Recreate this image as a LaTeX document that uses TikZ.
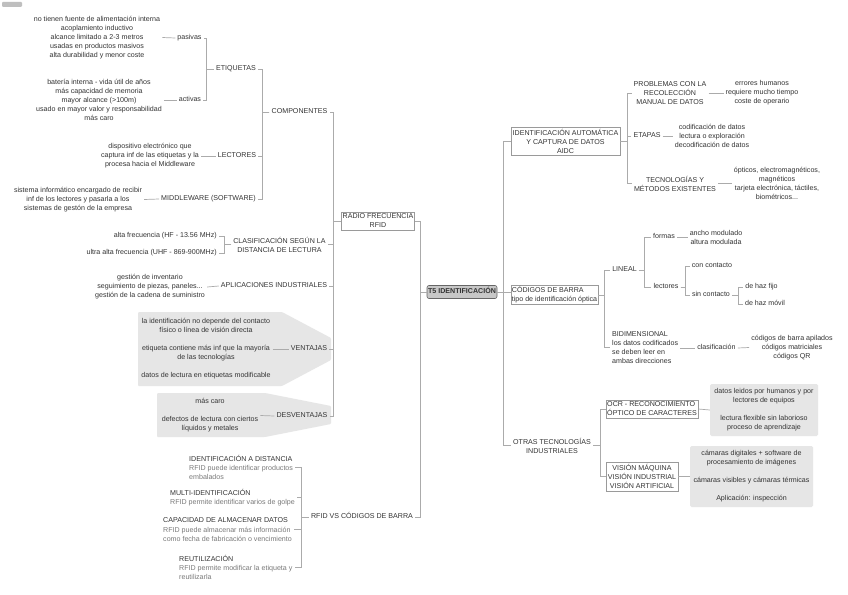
\documentclass[tikz,border=0pt]{standalone}
\usepackage{fontspec}
\setmainfont{Liberation Sans}
\usetikzlibrary{calc}
\definecolor{txtc}{HTML}{333333}
\definecolor{lnc}{HTML}{ABABAB}
\definecolor{bxc}{HTML}{9A9A9A}
\definecolor{shpc}{HTML}{E6E6E6}
\definecolor{descc}{HTML}{7A7A7A}
\newcommand\mydesc[1]{\textcolor{descc}{#1}}
\begin{document}
\begin{tikzpicture}[x=1pt,y=-1pt,
  every node/.style={font=\fontsize{7.1}{9}\selectfont, text=txtc, inner sep=2pt, align=center},
  one/.style={text height=5.3pt, text depth=1.5pt},
  bxn/.style={draw=bxc, line width=0.6pt, inner xsep=1pt, inner ysep=1pt},
  gbox/.style={fill=shpc, rounded corners=1.5pt, inner sep=1pt},
  conn/.style={draw=lnc, line width=0.7pt},
]
\useasboundingbox (0,0) rectangle (848,594);
\fill[white] (0,0) rectangle (848,594);
% badge
\fill[black!25, rounded corners=1pt] (2,2) rectangle (22,7);

% gray shapes
\fill[shpc, rounded corners=1pt] (138,312) -- (282,312) -- (331,338) -- (331,360) -- (282,386) -- (138,386) -- cycle;
\fill[shpc, rounded corners=1pt] (157,393) -- (265,393) -- (331,406) -- (331,424) -- (265,437) -- (157,437) -- cycle;

% ---------- centre
\node[one, draw=black!60, fill=black!22, rounded corners=2pt, line width=0.6pt, font=\fontsize{7.1}{9}\selectfont\bfseries, minimum width=70pt, minimum height=13pt, inner sep=1pt] (t5) at (462,292) {T5 IDENTIFICACIÓN};

% ---------- left
\node[bxn, minimum width=72pt, minimum height=18pt] (rf) at (378,221) {RADIO FRECUENCIA\\RFID};

\node (pasT) at (97,37.5) {no tienen fuente de alimentación interna\\acoplamiento inductivo\\alcance limitado a 2-3 metros\\usadas en productos masivos\\alta durabilidad y menor coste};
\node[one] (pas) at (189.5,38) {pasivas};
\node (actT) at (99,100) {batería interna - vida útil de años\\más capacidad de memoria\\mayor alcance (>100m)\\usado en mayor valor y responsabilidad\\más caro};
\node[one] (act) at (190,100) {activas};
\node[one] (etiq) at (236,69) {ETIQUETAS};
\node (lecT) at (150,156) {dispositivo electrónico que\\captura inf de las etiquetas y la\\procesa hacia el Middleware};
\node[one] (lec) at (237,156) {LECTORES};
\node (midT) at (78,199.5) {sistema informático encargado de recibir\\inf de los lectores y pasarla a los\\sistemas de gestón de la empresa};
\node[one] (mid) at (208.5,199) {MIDDLEWARE (SOFTWARE)};
\node[one] (comp) at (299.5,112) {COMPONENTES};

\node[one, anchor=east] (hf) at (219,236) {alta frecuencia (HF - 13.56 MHz)};
\node[one, anchor=east] (uhf) at (219,253) {ultra alta frecuencia (UHF - 869-900MHz)};
\node (clas) at (279.5,244.5) {CLASIFICACIÓN SEGÚN LA\\DISTANCIA DE LECTURA};

\node (aplT) at (150,287) {gestión de inventario\\seguimiento de piezas, paneles...\\gestión de la cadena de suministro};
\node[one] (apl) at (274,286) {APLICACIONES INDUSTRIALES};

\node (venT) at (206,349) {la identificación no depende del contacto\\físico o línea de visión directa\\[9pt]etiqueta contiene más inf que la mayoría\\de las tecnologías\\[9pt]datos de lectura en etiquetas modificable};
\node[one] (ven) at (309,349) {VENTAJAS};
\node (desT) at (210,415.5) {más caro\\[9pt]defectos de lectura con ciertos\\líquidos y metales};
\node[one] (des) at (302,416) {DESVENTAJAS};

\node[one] (rvs) at (362,517) {RFID VS CÓDIGOS DE BARRA};
\node[anchor=west, align=left] (it1) at (187,467) {IDENTIFICACIÓN A DISTANCIA\\\mydesc{RFID puede identificar productos}\\\mydesc{embalados}};
\node[anchor=west, align=left] (it2) at (168,497.5) {MULTI-IDENTIFICACIÓN\\\mydesc{RFID permite identificar varios de golpe}};
\node[anchor=west, align=left] (it3) at (161,529.5) {CAPACIDAD DE ALMACENAR DATOS\\[1pt]\mydesc{RFID puede almacenar más información}\\\mydesc{como fecha de fabricación o vencimiento}};
\node[anchor=west, align=left] (it4) at (177,567) {REUTILIZACIÓN\\\mydesc{RFID permite modificar la etiqueta y}\\\mydesc{reutilizarla}};

% ---------- right
\node[bxn, minimum width=109pt, minimum height=28pt] (aidc) at (565.5,141) {IDENTIFICACIÓN AUTOMÁTICA\\Y CAPTURA DE DATOS\\AIDC};
\node (prob) at (670,93) {PROBLEMAS CON LA\\RECOLECCIÓN\\MANUAL DE DATOS};
\node (probT) at (762,93) {errores humanos\\requiere mucho tiempo\\coste de operario};
\node[one] (etap) at (647,136) {ETAPAS};
\node (etapT) at (712,136) {codificación de datos\\lectura o exploración\\decodificación de datos};
\node (tec) at (675,183.5) {TECNOLOGÍAS Y\\MÉTODOS EXISTENTES};
\node (tecT) at (777,183.5) {ópticos, electromagnéticos,\\magnéticos\\tarjeta electrónica, táctiles,\\biométricos...};

\node[bxn, align=left, minimum width=87pt, minimum height=18pt] (cb) at (554.5,295) {CÓDIGOS DE BARRA\\tipo de identificación óptica};
\node[one] (lin) at (624.5,270) {LINEAL};
\node[one] (form) at (664,237) {formas};
\node (formT) at (716,237) {ancho modulado\\altura modulada};
\node[one] (lect) at (666,287) {lectores};
\node[one] (con) at (712,266) {con contacto};
\node[one] (sin) at (711,295) {sin contacto};
\node[one] (fijo) at (761.5,287) {de haz fijo};
\node[one] (movil) at (765,304) {de haz móvil};
\node[anchor=west, align=left] (bid) at (610,347.5) {BIDIMENSIONAL\\los datos codificados\\se deben leer en\\ambas direcciones};
\node[one] (clasif) at (716.5,348) {clasificación};
\node (clasifT) at (792,347.5) {códigos de barra apilados\\códigos matriciales\\códigos QR};

\node (otras) at (552,445.5) {OTRAS TECNOLOGÍAS\\INDUSTRIALES};
\node[bxn, align=left, minimum width=92pt, minimum height=18pt] (ocr) at (652,409) {OCR - RECONOCIMIENTO\\ÓPTICO DE CARACTERES};
\node[gbox, minimum width=108pt, minimum height=52pt] (ocrT) at (764,410) {datos leidos por humanos y por\\lectores de equipos\\[9pt]lectura flexible sin laborioso\\proceso de aprendizaje};
\node[bxn, minimum width=72pt, minimum height=29pt] (vis) at (642,476.5) {VISIÓN MÁQUINA\\VISIÓN INDUSTRIAL\\VISIÓN ARTIFICIAL};
\node[gbox, minimum width=123pt, minimum height=61pt] (visT) at (751.5,476.5) {cámaras digitales + software de\\procesamiento de imágenes\\[9pt]cámaras visibles y cámaras térmicas\\[9pt]Aplicación: inspección};

% ---------- connectors left
\draw[conn] (t5.west) -- ++(-6,0) |- (rf.east);
\draw[conn] (t5.west) ++(-6,0) |- (rvs.east);
\foreach \c in {comp,clas,apl,ven,des} \draw[conn] (rf.west) -- ++(-8,0) |- (\c.east);
\foreach \c in {etiq,lec,mid} \draw[conn] (comp.west) -- ++(-7,0) |- (\c.east);
\foreach \c in {pas,act} \draw[conn] (etiq.west) -- ++(-8,0) |- (\c.east);
\draw[conn] (pasT.east) -- (pas.west);
\draw[conn] (actT.east) -- (act.west);
\draw[conn] (lecT.east) -- (lec.west);
\draw[conn] (midT.east) -- (mid.west);
\foreach \c in {hf,uhf} \draw[conn] (clas.west) -- ++(-7,0) |- (\c.east);
\draw[conn] (aplT.east) -- (apl.west);
\draw[conn] (venT.east) -- (ven.west);
\draw[conn] (desT.east) -- (des.west);
\foreach \c in {it1,it2,it3,it4} \draw[conn] (rvs.west) -- ++(-8,0) |- (\c.east);

% ---------- connectors right
\draw[conn] (t5.east) -- (t5.east -| cb.west);
\draw[conn] (t5.east) ++(6,0) |- (aidc.west);
\draw[conn] (t5.east) ++(6,0) |- (otras.west);
\foreach \c in {prob,etap,tec} \draw[conn] (aidc.east) -- ++(7,0) |- (\c.west);
\draw[conn] (prob.east) -- (probT.west);
\draw[conn] (etap.east) -- (etapT.west);
\draw[conn] (tec.east) -- (tecT.west);
\foreach \c in {lin,bid} \draw[conn] (cb.east) -- ++(6,0) |- (\c.west);
\foreach \c in {form,lect} \draw[conn] (lin.east) -- ++(5,0) |- (\c.west);
\draw[conn] (form.east) -- (formT.west);
\foreach \c in {con,sin} \draw[conn] (lect.east) -- ++(5,0) |- (\c.west);
\foreach \c in {fijo,movil} \draw[conn] (sin.east) -- ++(6,0) |- (\c.west);
\draw[conn] (bid.east |- clasif.west) -- (clasif.west);
\draw[conn] (clasif.east) -- (clasifT.west);
\foreach \c in {ocr,vis} \draw[conn] (otras.east) -- ++(7,0) |- (\c.west);
\draw[conn] (ocr.east) -- (ocrT.west);
\draw[conn] (vis.east) -- (visT.west);
\end{tikzpicture}
\end{document}
